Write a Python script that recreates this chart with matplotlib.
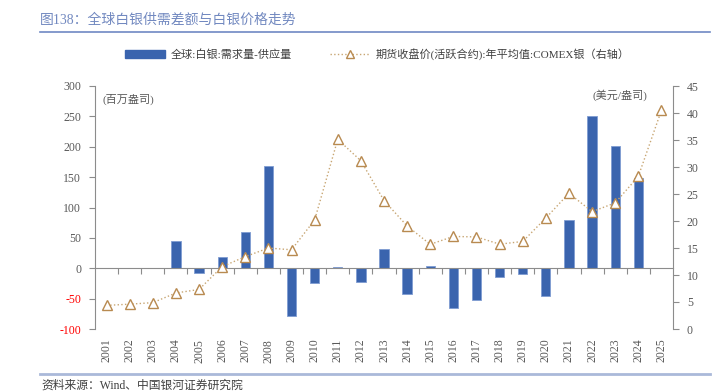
import numpy as np
import matplotlib
matplotlib.use("Agg")
import matplotlib.pyplot as plt
from matplotlib.transforms import blended_transform_factory
from matplotlib.lines import Line2D
from matplotlib.patches import Patch

plt.rcParams['font.family'] = ['Liberation Serif', 'Noto Sans CJK SC', 'DejaVu Sans']
MIX = ['Liberation Serif', 'Noto Sans CJK SC', 'DejaVu Sans']

years = [str(y) for y in range(2001, 2026)]
balance = [0, 0, 0, 45, -8, 18, 60, 169, -79, -25, 2, -22, 31, -43, 4,
           -65, -53, -14, -10, -45, 79, 250, 201, 149, 0]
price = [4.37, 4.60, 4.88, 6.67, 7.32, 11.55, 13.40, 14.99, 14.67, 20.19,
         35.12, 31.15, 23.79, 19.08, 15.68, 17.14, 17.05, 15.71, 16.21, 20.55,
         25.14, 21.73, 23.35, 28.27, 40.5]
left_ticks = [-100, -50, 0, 50, 100, 150, 200, 250, 300]
right_ticks = [0, 5, 10, 15, 20, 25, 30, 35, 40, 45]

title = "图138：全球白银供需差额与白银价格走势"
bar_label = "全球:白银:需求量-供应量"
line_label = "期货收盘价(活跃合约):年平均值:COMEX银（右轴）"
source = "资料来源：Wind、中国银河证券研究院"

W, H = 719, 392
fig = plt.figure(figsize=(W / 100, H / 100), dpi=100)
ax = fig.add_axes([95 / W, 1 - 329 / H, (673 - 95) / W, (329 - 86) / H])

x = np.arange(len(years))
bar_c = '#3A64AE'
line_c = '#C8A673'
mk_c = '#B88A50'
grey = '#8C8C8C'
txt = '#595959'

ax.bar(x, balance, width=0.4, color=bar_c, edgecolor='#7F9CD2', linewidth=0.6, zorder=2)
ax.set_xlim(-0.5, len(years) - 0.5)
ax.set_ylim(-100, 300)
ax.set_yticks(left_ticks)
ax.set_yticklabels([str(t) for t in left_ticks])
for lab, t in zip(ax.get_yticklabels(), left_ticks):
    lab.set_color('#FF0000' if t < 0 else txt)
ax.tick_params(axis='y', direction='out', length=4, width=0.8, color=grey, labelsize=8.5, pad=6)

for s in ['top', 'right']:
    ax.spines[s].set_visible(False)
ax.spines['left'].set_color(grey)
ax.spines['bottom'].set_color(grey)
ax.spines['bottom'].set_position(('data', 0))
ax.spines['bottom'].set_zorder(3)
ax.set_xticks(x[:-1] + 0.5)
ax.set_xticklabels([])
ax.tick_params(axis='x', direction='out', length=4, width=0.8, color=grey)

trans = blended_transform_factory(ax.transData, ax.transAxes)
for xi, yr in zip(x, years):
    ax.text(xi, -0.04, yr, rotation=90, ha='center', va='top', fontsize=8.5,
            color=txt, transform=trans)

ax2 = ax.twinx()
ax2.plot(x, price, linestyle=':', color=line_c, linewidth=1.0, marker='^',
         markersize=7, markerfacecolor='white', markeredgecolor=mk_c,
         markeredgewidth=1.0, zorder=4)
ax2.set_ylim(0, 45)
ax2.set_yticks(right_ticks)
ax2.tick_params(axis='y', direction='out', length=4, width=0.8, color=grey,
                labelsize=8.5, labelcolor=txt, pad=6)
for s in ['top', 'left', 'bottom']:
    ax2.spines[s].set_visible(False)
ax2.spines['right'].set_color(grey)

ax.text(0.013, 0.97, "(百万盎司)", transform=ax.transAxes, ha='left', va='top',
        fontsize=8, color=txt, family=MIX)
ax2.text(0.955, 0.985, "(美元/盎司)", transform=ax.transAxes, ha='right', va='top',
         fontsize=8, color=txt, family=MIX)

# title and rules
fig.text(40 / W, 1 - 20 / H, title, ha='left', va='center', fontsize=10,
         color='#7289C0', family=MIX)
fig.add_artist(Line2D([40 / W, 710 / W], [1 - 32 / H, 1 - 32 / H],
                      color='#6F89C3', linewidth=1.2, transform=fig.transFigure))
fig.add_artist(Line2D([40 / W, 710 / W], [1 - 374 / H, 1 - 374 / H],
                      color='#AAB9D9', linewidth=2.0, transform=fig.transFigure))
fig.text(41 / W, 1 - 386 / H, source, ha='left', va='center', fontsize=8.5,
         color='#404040', family=MIX)

handles = [Patch(facecolor=bar_c, edgecolor=bar_c),
           Line2D([0], [0], linestyle=':', color=line_c, linewidth=1.0, marker='^',
                  markersize=6, markerfacecolor='white', markeredgecolor=mk_c)]
leg = fig.legend(handles, [bar_label, line_label], loc='center left',
                 bbox_to_anchor=(125 / W, 1 - 54 / H), ncol=2, frameon=False,
                 handlelength=3.6, handletextpad=0.5, columnspacing=3.4,
                 borderpad=0, borderaxespad=0,
                 prop={'family': MIX, 'size': 8})
for t in leg.get_texts():
    t.set_color('#404040')

fig.savefig('out.png', dpi=100)
